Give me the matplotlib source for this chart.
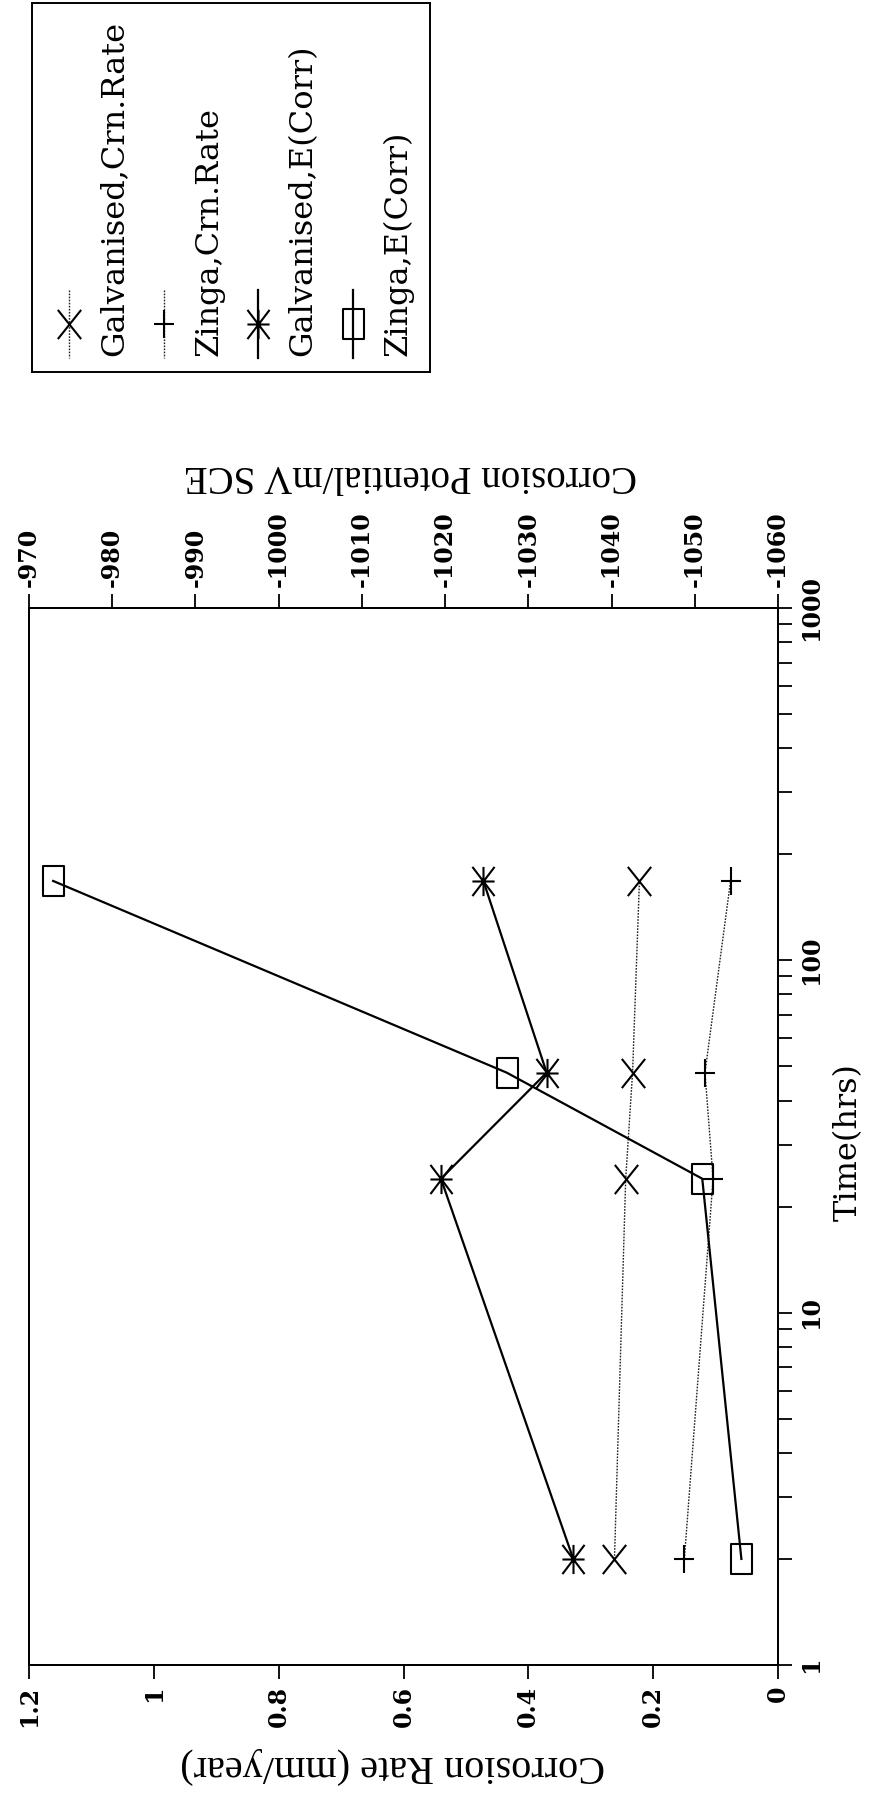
import matplotlib
matplotlib.use("Agg")
import matplotlib.pyplot as plt
from matplotlib.path import Path
from matplotlib.ticker import FixedLocator, FuncFormatter, NullFormatter, LogLocator

# ---------------- data ----------------
time_hrs = [2, 24, 48, 168]
galv_rate = [0.262, 0.244, 0.233, 0.222]          # mm/year
zinga_rate = [0.150, 0.104, 0.117, 0.076]         # mm/year
galv_ecorr = [-1035.4, -1019.5, -1032.2, -1024.6] # mV SCE
zinga_ecorr = [-1055.6, -1050.9, -1027.4, -972.9] # mV SCE

rate_ticks = [1.2, 1.0, 0.8, 0.6, 0.4, 0.2, 0.0]
pot_ticks = [-970, -980, -990, -1000, -1010, -1020, -1030, -1040, -1050, -1060]
time_ticks = [1, 10, 100, 1000]

labels = ["Galvanised,Crn.Rate", "Zinga,Crn.Rate", "Galvanised,E(Corr)", "Zinga,E(Corr)"]

# ---------------- markers ----------------
M, L = Path.MOVETO, Path.LINETO
xmark = Path([(-0.4, -0.5), (0.4, 0.5), (-0.4, 0.5), (0.4, -0.5)], [M, L, M, L])
plusmark = Path([(-0.36, 0), (0.36, 0), (0, -0.5), (0, 0.5)], [M, L, M, L])
astmark = Path([(-0.38, -0.5), (0.38, 0.5), (-0.38, 0.5), (0.38, -0.5),
                (0, -0.5), (0, 0.5), (-0.38, 0), (0.38, 0)], [M, L] * 4)
rectmark = Path([(-0.36, -0.5), (0.36, -0.5), (0.36, 0.5), (-0.36, 0.5), (-0.36, -0.5)],
                [M, L, L, L, Path.CLOSEPOLY])

dotted = (0, (1.2, 1.0))
styles = [
    dict(marker=xmark, ms=21, ls=dotted, lw=1.0, color="#222222"),
    dict(marker=plusmark, ms=20, ls=dotted, lw=1.0, color="#222222"),
    dict(marker=astmark, ms=21, ls="-", lw=1.6, color="black"),
    dict(marker=rectmark, ms=21, ls="-", lw=1.6, color="black"),
]
for s in styles:
    s.update(mfc="none", mec="black", mew=1.5)

plt.rcParams["font.family"] = ["DejaVu Serif"]

W, H = 871, 1794
fig = plt.figure(figsize=(W / 100, H / 100), dpi=100)
fig.patch.set_facecolor("white")

# plot frame in pixels
left, right, top, bottom = 29, 778, 608, 1665
ax = fig.add_axes([left / W, 1 - bottom / H, (right - left) / W, (bottom - top) / H])
ax.set_yscale("log")
ax.set_ylim(1, 1000)
ax.set_xlim(1.2, 0)

ax2 = ax.twiny()
ax2.set_xlim(-970, -1060)

ax.plot(galv_rate, time_hrs, **styles[0], zorder=3)
ax.plot(zinga_rate, time_hrs, **styles[1], zorder=3)
ax2.plot(galv_ecorr, time_hrs, **styles[2], zorder=3)
ax2.plot(zinga_ecorr, time_hrs, **styles[3], zorder=3)

tickfont = dict(family="DejaVu Serif", weight="bold", size=17)

# bottom: corrosion rate
ax.xaxis.set_major_locator(FixedLocator(rate_ticks))
ax.xaxis.set_major_formatter(FuncFormatter(lambda v, p: "%g" % round(v, 2)))
ax.tick_params(axis="x", direction="out", length=10, width=1.3, pad=5)
for lb in ax.get_xticklabels():
    lb.set_rotation(90)
    lb.set_fontproperties(matplotlib.font_manager.FontProperties(**tickfont))

# right: time
ax.yaxis.tick_right()
ax.yaxis.set_major_locator(FixedLocator(time_ticks))
ax.yaxis.set_major_formatter(FuncFormatter(lambda v, p: "%d" % round(v)))
ax.yaxis.set_minor_locator(LogLocator(base=10, subs=range(2, 10)))
ax.yaxis.set_minor_formatter(NullFormatter())
ax.tick_params(axis="y", which="both", direction="out", length=10, width=1.3, pad=5)
for lb in ax.yaxis.get_majorticklabels():
    lb.set_rotation(90)
    lb.set_va("center")
    lb.set_fontproperties(matplotlib.font_manager.FontProperties(**tickfont))

# top: potential
ax2.xaxis.set_major_locator(FixedLocator(pot_ticks))
ax2.xaxis.set_major_formatter(FuncFormatter(lambda v, p: "%d" % round(v)))
ax2.tick_params(axis="x", direction="out", length=10, width=1.3, pad=5)
for lb in ax2.get_xticklabels():
    lb.set_rotation(90)
    lb.set_fontproperties(matplotlib.font_manager.FontProperties(**tickfont))

for a in (ax, ax2):
    for sp in a.spines.values():
        sp.set_linewidth(1.4)

# axis titles
fig.text(393 / W, 1 - 1765 / H, "Corrosion Rate (mm/year)", rotation=180,
         ha="center", va="center", family="Liberation Serif", size=29)
fig.text(410 / W, 1 - 475 / H, "Corrosion Potential/mV SCE", rotation=180,
         ha="center", va="center", family="Liberation Serif", size=28)
fig.text(848 / W, 1 - 1142 / H, "Time(hrs)", rotation=90,
         ha="center", va="center", family="DejaVu Serif", size=23)

# legend (rotated, built by hand)
lx0, lx1, ly0, ly1 = 32, 430, 3, 372
lax = fig.add_axes([lx0 / W, 1 - ly1 / H, (lx1 - lx0) / W, (ly1 - ly0) / H])
lax.set_xlim(lx0, lx1)
lax.set_ylim(ly1, ly0)
lax.set_xticks([])
lax.set_yticks([])
for sp in lax.spines.values():
    sp.set_linewidth(1.4)
step = 94.6
for i, (lab, st) in enumerate(zip(labels, styles)):
    xm = 69 + i * step
    lax.plot([xm, xm], [290, 358], ls=st["ls"], lw=st["lw"], color=st["color"])
    lax.plot([xm], [324], ls="none", marker=st["marker"], ms=st["ms"],
             mfc="none", mec="black", mew=1.5)
    lax.text(114 + i * step, 356, lab, rotation=90, ha="center", va="bottom",
             family="DejaVu Serif", size=23)

fig.savefig("out.png", dpi=100, facecolor="white")
